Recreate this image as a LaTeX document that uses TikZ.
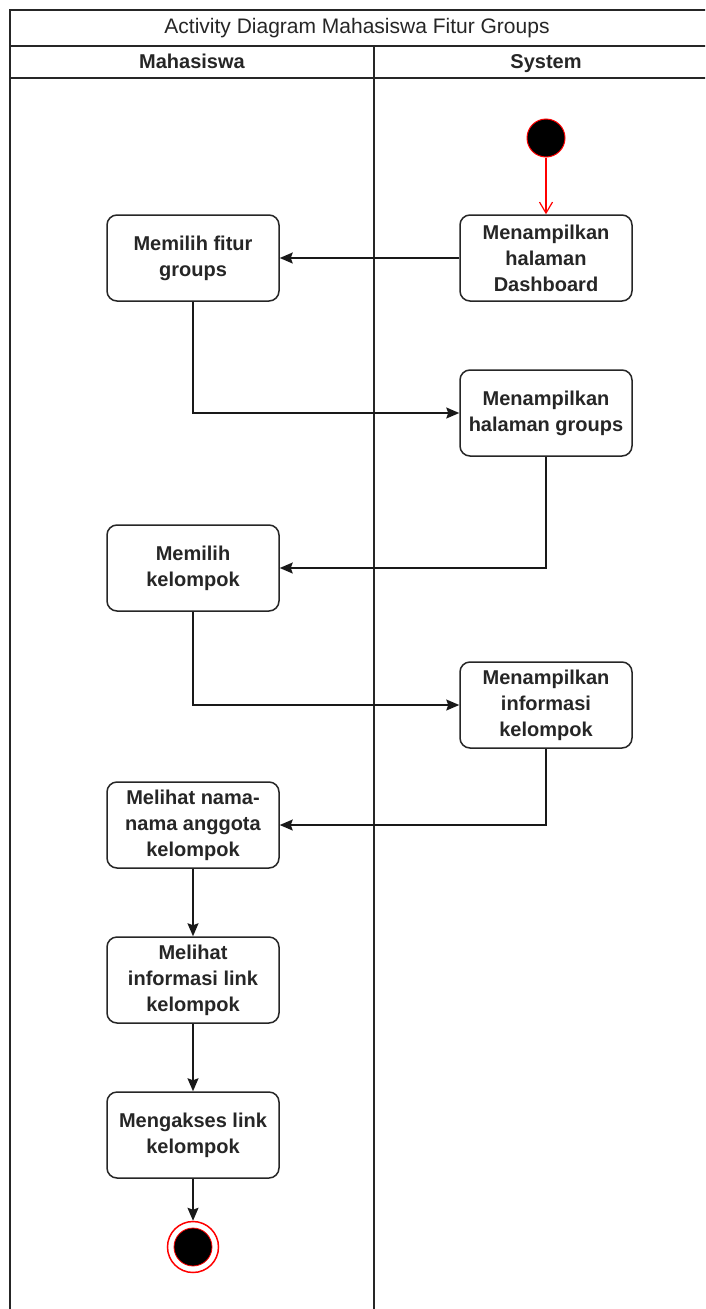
\documentclass[tikz,border=0pt]{standalone}
\usepackage{fontspec}
\setmainfont{Liberation Sans}
\usetikzlibrary{arrows.meta}
\begin{document}
\begin{tikzpicture}[x=1pt,y=-1pt,
  lane/.style={line width=1.5pt,draw=black!85},
  act/.style={draw=black!85,line width=1.5pt,rounded corners=10pt,fill=white,
    minimum width=172pt,minimum height=86pt,align=center,
    font=\fontsize{20}{26}\selectfont\bfseries,text=black!85},
  flow/.style={line width=1.5pt,draw=black!90,-{Stealth[length=13pt,width=11pt,inset=2pt]}},
  redflow/.style={line width=1.2pt,draw=red,-{Straight Barb[length=11pt,width=13pt]}},
  hdr/.style={anchor=base,font=\fontsize{20}{24}\selectfont\bfseries,text=black!85},
  ttl/.style={anchor=base,font=\fontsize{21}{24}\selectfont,text=black!85}
]
\useasboundingbox (0,0) rectangle (705,1309);
\fill[white] (0,0) rectangle (705,1309);
\clip (0,0) rectangle (705,1309);

% pool frame, title row, lane headers and divider
\draw[lane] (10,1320) -- (10,10) -- (715,10);
\draw[lane] (10,46) -- (715,46);
\draw[lane] (10,78) -- (715,78);
\draw[lane] (374,46) -- (374,1320);
\node[ttl] (title) at (357,33) {Activity Diagram Mahasiswa Fitur Groups};
\node[hdr] (lmhs) at (192,68) {Mahasiswa};
\node[hdr] (lsys) at (546,68) {System};

% start and end
\node[circle,fill=black,draw=red,line width=1pt,minimum size=38pt,inner sep=0pt] (start) at (546,138) {};
\node[circle,draw=red,line width=1.5pt,fill=white,minimum size=51pt,inner sep=0pt] (endo) at (193,1247) {};
\node[circle,fill=black,draw=red,line width=0.8pt,minimum size=38pt,inner sep=0pt] (end) at (193,1247) {};

% activities
\node[act] (dash) at (546,258) {Menampilkan\\halaman\\Dashboard};
\node[act] (fitur) at (193,258) {Memilih fitur\\groups};
\node[act] (groups) at (546,413) {Menampilkan\\halaman groups};
\node[act] (kel) at (193,568) {Memilih\\kelompok};
\node[act] (info) at (546,705) {Menampilkan\\informasi\\kelompok};
\node[act] (nama) at (193,825) {Melihat nama-\\nama anggota\\kelompok};
\node[act] (link) at (193,980) {Melihat\\informasi link\\kelompok};
\node[act] (akses) at (193,1135) {Mengakses link\\kelompok};

% flows
\draw[redflow] (start) -- (dash);
\draw[flow] (dash) -- (fitur);
\draw[flow] (fitur.south) |- (groups.west);
\draw[flow] (groups.south) |- (kel.east);
\draw[flow] (kel.south) |- (info.west);
\draw[flow] (info.south) |- (nama.east);
\draw[flow] (nama) -- (link);
\draw[flow] (link) -- (akses);
\draw[flow] (akses) -- (endo);
\end{tikzpicture}
\end{document}
